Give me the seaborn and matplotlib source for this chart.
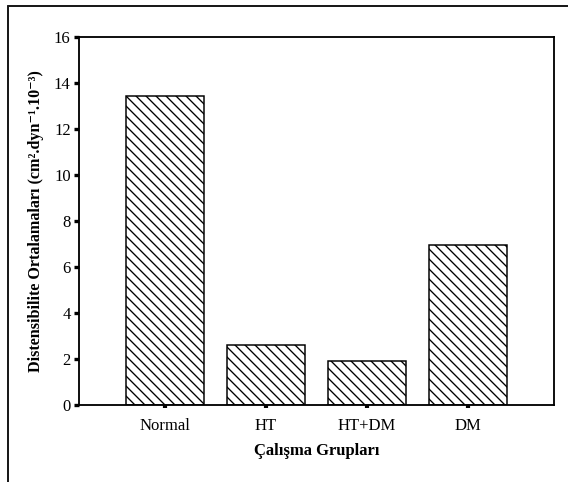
import matplotlib
matplotlib.use("Agg")
import matplotlib.pyplot as plt
import seaborn as sns
import pandas as pd
from matplotlib.lines import Line2D

groups = ["Normal", "HT", "HT+DM", "DM"]
values = [13.45, 2.6, 1.9, 6.95]
yticks = [0, 2, 4, 6, 8, 10, 12, 14, 16]

sns.set_theme(style="white")
plt.rcParams["font.family"] = ["Liberation Serif", "DejaVu Serif"]
plt.rcParams["hatch.linewidth"] = 0.8
plt.rcParams["text.color"] = "black"
plt.rcParams["axes.labelcolor"] = "black"
plt.rcParams["xtick.color"] = "black"
plt.rcParams["ytick.color"] = "black"

dpi = 120
fig = plt.figure(figsize=(568 / dpi, 482 / dpi), dpi=dpi)
ax = fig.add_axes([79 / 568, 1 - 405 / 482, (554 - 79) / 568, (405 - 37) / 482])

df = pd.DataFrame({"grup": groups, "deger": values})
sns.barplot(data=df, x="grup", y="deger", ax=ax, color="white",
            edgecolor="black", linewidth=0.9, hatch="\\\\\\\\", width=0.77,
            saturation=1)

ax.set_xlim(-0.85, 3.85)
ax.set_ylim(0, 16)
ax.set_yticks(yticks)
ax.set_yticklabels([str(t) for t in yticks], fontsize=10)
ax.set_xticks(range(len(groups)))
ax.set_xticklabels(groups, fontsize=10)
ax.tick_params(axis="y", direction="out", length=3, width=2, color="black",
               labelcolor="black", pad=2, left=True)
ax.tick_params(axis="x", direction="out", length=2, width=2.5, color="black",
               labelcolor="black", pad=6, bottom=True)
for s in ax.spines.values():
    s.set_visible(True)
    s.set_color("black")
    s.set_linewidth(1.1)

ax.set_xlabel("Çalışma Grupları", fontsize=10, fontweight="bold", labelpad=5,
              color="black")
ax.set_ylabel("Distensibilite Ortalamaları (cm².dyn⁻¹.10⁻³)", fontsize=9.7,
              fontweight="bold", labelpad=6, color="black")

# outer frame lines (top and left)
fig.add_artist(Line2D([8 / 568, 1.0], [1 - 6 / 482, 1 - 6 / 482],
                      transform=fig.transFigure, color="#1a1a1a", linewidth=1.2))
fig.add_artist(Line2D([8 / 568, 8 / 568], [0.0, 1 - 6 / 482],
                      transform=fig.transFigure, color="#1a1a1a", linewidth=1.2))

fig.savefig("out.png", dpi=dpi)
